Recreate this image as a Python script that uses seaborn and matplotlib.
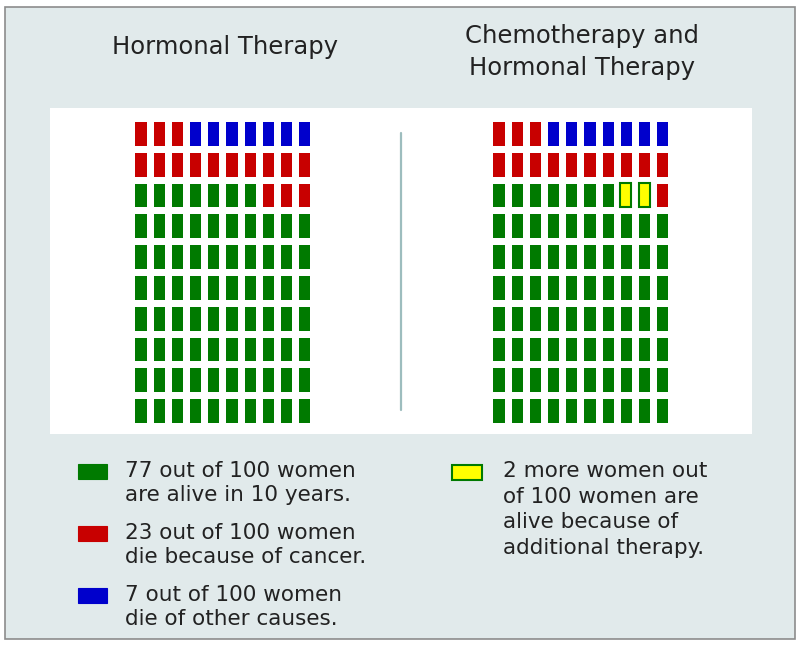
import numpy as np
import matplotlib
matplotlib.use('Agg')
import matplotlib.pyplot as plt
from matplotlib.colors import ListedColormap
from matplotlib.patches import Rectangle
import seaborn as sns

# fill order: alive, saved by chemo, died of cancer, died of other causes
categories = ['alive', 'saved', 'cancer', 'other']
colors = ['#007a00', '#ffff00', '#c80000', '#0000cc']
hormonal = [77, 0, 16, 7]
chemo_hormonal = [77, 2, 14, 7]
titles = ['Hormonal Therapy', 'Chemotherapy and\nHormonal Therapy']
legend_left = ['77 out of 100 women\nare alive in 10 years.',
               '23 out of 100 women\ndie because of cancer.',
               '7 out of 100 women\ndie of other causes.']
legend_right = '2 more women out\nof 100 women are\nalive because of\nadditional therapy.'

sns.set_theme(style='white')
plt.rcParams['font.family'] = ['DejaVu Sans']
txt = '#222222'


def make_grid(counts):
    codes = np.repeat(np.arange(len(categories)), counts)
    # first filled cell is bottom-left, going row by row upward
    return codes.reshape(10, 10)[::-1]


fig = plt.figure(figsize=(8, 6.46), dpi=100)
fig.patch.set_facecolor('white')

bg = fig.add_axes([0, 0, 1, 1])
bg.set_xlim(0, 800)
bg.set_ylim(646, 0)
bg.axis('off')
bg.add_patch(Rectangle((5, 7), 790, 632, fc='#e1eaeb', ec='#8c8c8c', lw=1.2))
bg.add_patch(Rectangle((50, 108), 702, 326, fc='white', ec='none'))
bg.plot([401, 401], [133, 410], color='#9dbdbe', lw=1.6)

bg.text(225, 47, titles[0], ha='center', va='center', fontsize=17.5, color=txt)
bg.text(582, 52, titles[1], ha='center', va='center', fontsize=17.5,
        color=txt, linespacing=1.4)

cmap = ListedColormap(colors)
for data, left in [(hormonal, 131.4), (chemo_hormonal, 489.4)]:
    grid = make_grid(data)
    ax = fig.add_axes([left / 800, (646 - 426) / 646, 182 / 800, 308 / 646])
    sns.heatmap(grid, ax=ax, cmap=cmap, vmin=-0.5, vmax=len(colors) - 0.5,
                cbar=False, linewidths=4.8, linecolor='white',
                xticklabels=False, yticklabels=False)
    rows, cols = np.where(grid == 1)
    if len(rows):
        ax.bar(cols + 0.5, 0.76, bottom=rows + 0.12, width=0.6,
               color=colors[1], edgecolor=colors[0], linewidth=1.5)
    ax.axis('off')

# legend
for i, (label, col) in enumerate(zip(legend_left, [colors[0], colors[2], colors[3]])):
    y = 464 + i * 62
    bg.add_patch(Rectangle((78, y), 29, 15, fc=col, ec=col, lw=0.8))
    bg.text(125, y + 19, label, ha='left', va='center', fontsize=15.5,
            color=txt, linespacing=1.3)

bg.add_patch(Rectangle((452, 465), 30, 15, fc=colors[1], ec=colors[0], lw=1.5))
bg.text(503, 509.5, legend_right, ha='left', va='center', fontsize=15.5,
        color=txt, linespacing=1.35)

fig.savefig('out.png', dpi=100, facecolor=fig.get_facecolor())
